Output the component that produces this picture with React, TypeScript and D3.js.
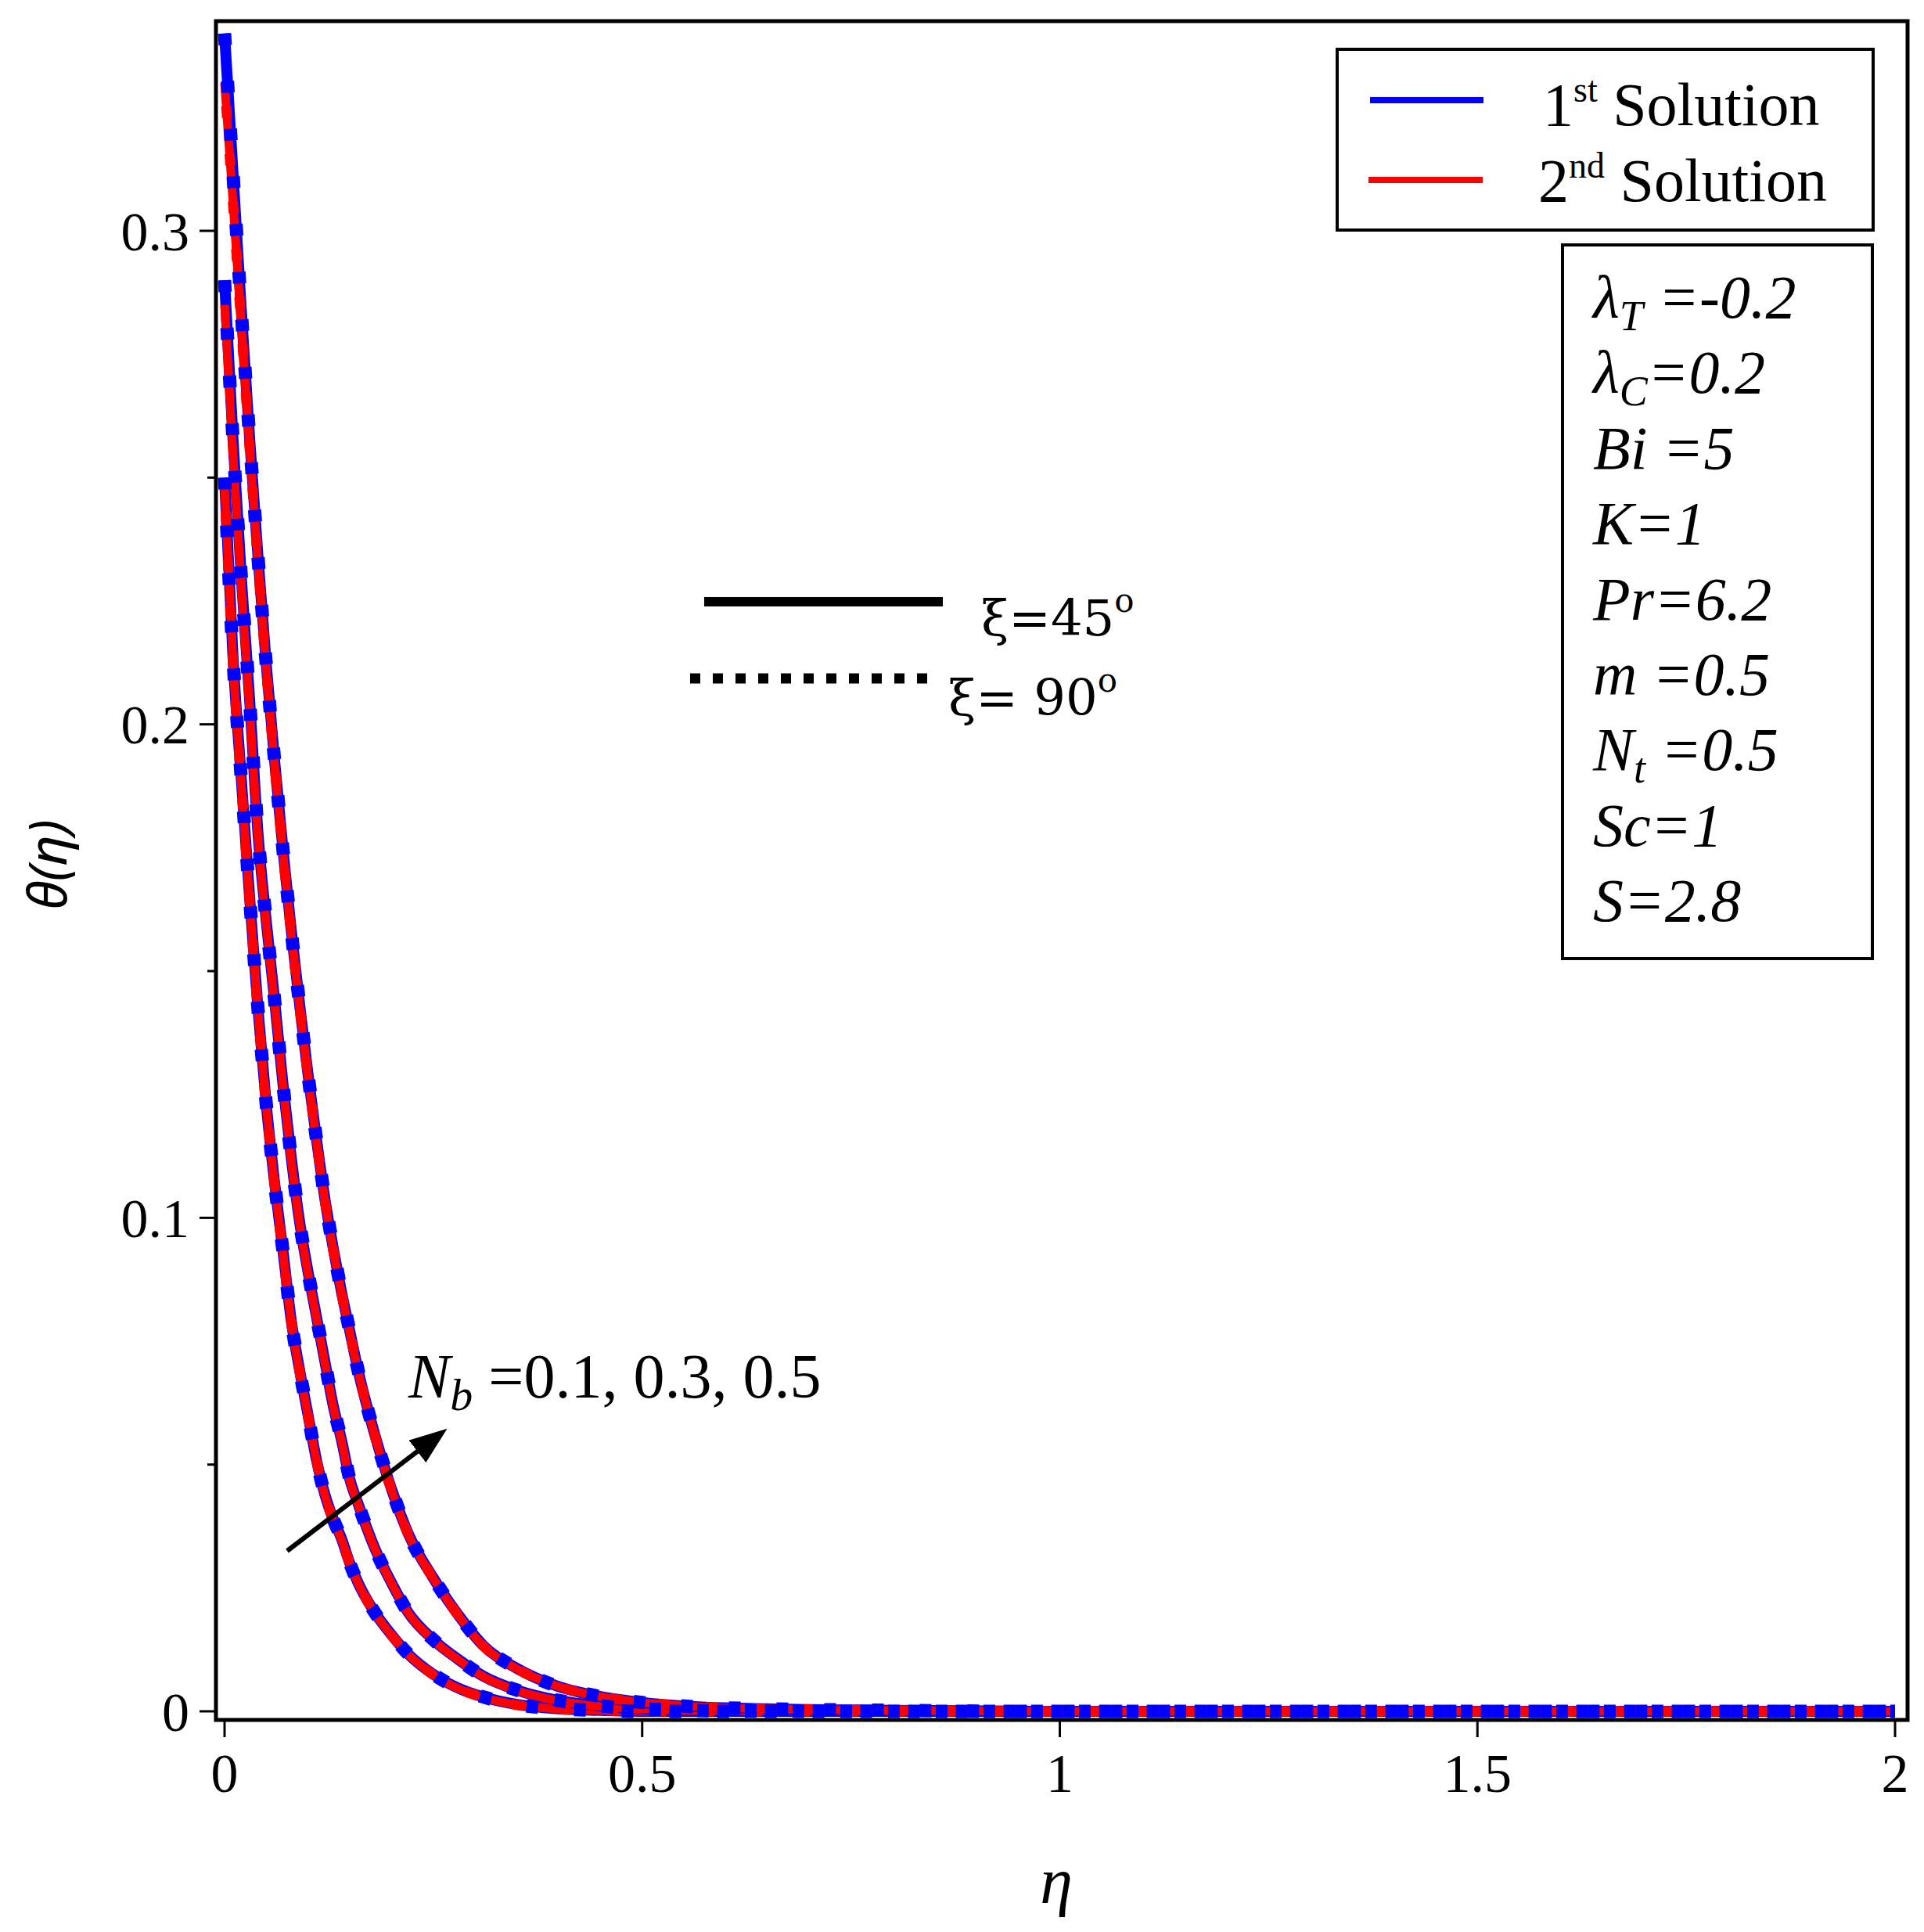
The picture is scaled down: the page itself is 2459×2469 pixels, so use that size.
import React from 'react'
import * as d3 from 'd3'

// eta sample points shared by every curve
const etaGrid = [0, 0.01, 0.02, 0.03, 0.04, 0.05, 0.06, 0.07, 0.08, 0.09, 0.1, 0.11, 0.12, 0.13, 0.14, 0.15, 0.16, 0.18, 0.2, 0.22, 0.25, 0.28, 0.31, 0.35, 0.4, 0.45, 0.5, 0.6, 0.8, 1.0, 1.5, 2.0]

// theta(eta), 1st solution (blue)
const firstNb01 = [0.25, 0.214, 0.189, 0.165, 0.1424, 0.1229, 0.107, 0.0932, 0.079, 0.069, 0.06, 0.051, 0.044, 0.039, 0.035, 0.03, 0.026, 0.02, 0.0155, 0.0116, 0.0075, 0.0047, 0.0029, 0.0014, 0.0005, 0.0002, 0, 0, 0, 0, 0, 0]
const firstNb03 = [0.29, 0.258, 0.23, 0.205, 0.178, 0.16, 0.144, 0.127, 0.112, 0.099, 0.089, 0.08, 0.071, 0.062, 0.055, 0.047, 0.042, 0.033, 0.026, 0.02, 0.0145, 0.0105, 0.0071, 0.0043, 0.0022, 0.0011, 0.0005, 0.0001, 0, 0, 0, 0]
const firstNb05 = [0.34, 0.312, 0.284, 0.258, 0.234, 0.212, 0.1925, 0.1745, 0.158, 0.143, 0.129, 0.116, 0.104, 0.094, 0.085, 0.077, 0.069, 0.056, 0.045, 0.036, 0.027, 0.0195, 0.0133, 0.0087, 0.005, 0.003, 0.0018, 0.0007, 0.0002, 0, 0, 0]

// theta(eta), 2nd solution (red)
const secondNb01 = [0.248, 0.213, 0.188, 0.164, 0.1418, 0.1224, 0.1066, 0.0928, 0.0787, 0.0687, 0.0598, 0.0508, 0.0438, 0.0388, 0.0348, 0.0299, 0.0259, 0.0199, 0.0154, 0.0115, 0.0074, 0.0046, 0.0028, 0.0013, 0.0005, 0.0002, 0, 0, 0, 0, 0, 0]
const secondNb03 = [0.285, 0.255, 0.228, 0.203, 0.1772, 0.1593, 0.1434, 0.1265, 0.1115, 0.0986, 0.0886, 0.0797, 0.0707, 0.0618, 0.0548, 0.0468, 0.0418, 0.0329, 0.0259, 0.0199, 0.0144, 0.0104, 0.007, 0.0042, 0.0021, 0.001, 0.0005, 0.0001, 0, 0, 0, 0]
const secondNb05 = [0.33, 0.306, 0.281, 0.256, 0.2328, 0.211, 0.1916, 0.1737, 0.1573, 0.1424, 0.1285, 0.1155, 0.1036, 0.0936, 0.0847, 0.0767, 0.0688, 0.0558, 0.0448, 0.0358, 0.0269, 0.0194, 0.0132, 0.0086, 0.005, 0.003, 0.0018, 0.0007, 0.0002, 0, 0, 0]

const nbValues = ['0.1', '0.3', '0.5']
const firstSolution = [firstNb01, firstNb03, firstNb05]
const secondSolution = [secondNb01, secondNb03, secondNb05]

const xTicks = [0, 0.5, 1, 1.5, 2]
const yTicks = [0, 0.1, 0.2, 0.3]
const yMinorTicks = [0.05, 0.15, 0.25]

const params = [
  { main: 'λ', sub: 'T', rest: ' =-0.2' },
  { main: 'λ', sub: 'C', rest: '=0.2' },
  { main: 'Bi =5', sub: '', rest: '' },
  { main: 'K=1', sub: '', rest: '' },
  { main: 'Pr=6.2', sub: '', rest: '' },
  { main: 'm =0.5', sub: '', rest: '' },
  { main: 'N', sub: 't', rest: ' =0.5' },
  { main: 'Sc=1', sub: '', rest: '' },
  { main: 'S=2.8', sub: '', rest: '' },
]

const W = 2459
const H = 2469
const frame = { left: 276, top: 27, right: 2438, bottom: 2198 }
const serif = '"Liberation Serif", "Times New Roman", serif'
const wideSerif = '"DejaVu Serif", serif'

const BLUE = '#0000ff'
const RED = '#ff0000'

const App: React.FC = () => {
  const x = d3.scaleLinear().domain([0, 2]).range([287, 2422])
  const y = d3.scaleLinear().domain([0, 0.3]).range([2187, 295])

  const line = (vals: number[]) =>
    d3.line<number>()
      .x((_, i) => x(etaGrid[i]))
      .y(d => y(d))
      .curve(d3.curveMonotoneX)(vals) as string

  return (
    <svg width={W} height={H} style={{ position: 'absolute', left: 0, top: 0, background: '#fff' }}>
      <defs>
        <clipPath id="plot-clip">
          <rect x={frame.left} y={frame.top} width={frame.right - frame.left} height={frame.bottom - frame.top} />
        </clipPath>
        <marker id="arrow-head" markerWidth={8} markerHeight={6} refX={6} refY={3} orient="auto" markerUnits="strokeWidth">
          <path d="M0,0 L8,3 L0,6 Z" fill="#000" />
        </marker>
      </defs>
      <rect width={W} height={H} fill="#fff" />

      <g clipPath="url(#plot-clip)">
        {/* xi = 45 deg, solid */}
        {nbValues.map((nb, i) => (
          <g key={'s' + nb}>
            <path d={line(firstSolution[i])} fill="none" stroke={BLUE} strokeWidth={14} />
            <path d={line(secondSolution[i])} fill="none" stroke={RED} strokeWidth={11} />
          </g>
        ))}
        {/* xi = 90 deg, dotted */}
        {nbValues.map((nb, i) => (
          <path key={'dr' + nb} d={line(secondSolution[i])} fill="none" stroke={RED} strokeWidth={13}
            strokeDasharray="15 46" strokeDashoffset={-30} />
        ))}
        {nbValues.map((nb, i) => (
          <path key={'db' + nb} d={line(firstSolution[i])} fill="none" stroke={BLUE} strokeWidth={17}
            strokeDasharray="15 46" />
        ))}
      </g>

      {/* frame */}
      <rect x={frame.left} y={frame.top} width={frame.right - frame.left} height={frame.bottom - frame.top}
        fill="none" stroke="#000" strokeWidth={5} />

      {/* y axis */}
      {yTicks.map(t => (
        <g key={'yt' + t}>
          <line x1={frame.left - 21} x2={frame.left} y1={y(t)} y2={y(t)} stroke="#000" strokeWidth={3} />
          <text x={242} y={y(t)} dy="0.35em" textAnchor="end" fontFamily={serif} fontSize={70}>
            {t === 0 ? '0' : d3.format('.1f')(t)}
          </text>
        </g>
      ))}
      {yMinorTicks.map(t => (
        <line key={'ym' + t} x1={frame.left - 11} x2={frame.left} y1={y(t)} y2={y(t)} stroke="#000" strokeWidth={3} />
      ))}

      {/* x axis */}
      {xTicks.map(t => (
        <g key={'xt' + t}>
          <line x1={x(t)} x2={x(t)} y1={frame.bottom} y2={frame.bottom + 22} stroke="#000" strokeWidth={3} />
          <text x={x(t)} y={2290} textAnchor="middle" fontFamily={serif} fontSize={70}>
            {String(t)}
          </text>
        </g>
      ))}

      {/* axis titles */}
      <text x={1350} y={2432} textAnchor="middle" fontFamily={serif} fontStyle="italic" fontSize={84}>η</text>
      <text transform="translate(85,1105) rotate(-90)" textAnchor="middle" fontFamily='"Noto Sans", sans-serif'
        fontStyle="italic" fontSize={68}>θ(η)</text>

      {/* solution legend */}
      <rect x={1709} y={63} width={685} height={231} fill="#fff" stroke="#000" strokeWidth={4} />
      <line x1={1751} x2={1896} y1={128} y2={128} stroke={BLUE} strokeWidth={8} />
      <line x1={1749} x2={1895} y1={230} y2={230} stroke={RED} strokeWidth={8} />
      <text x={1972} y={160} fontFamily={serif} fontSize={78}>
        1<tspan fontSize={46} dy={-30}>st</tspan><tspan dy={30}> Solution</tspan>
      </text>
      <text x={1966} y={257} fontFamily={serif} fontSize={78}>
        2<tspan fontSize={46} dy={-30}>nd</tspan><tspan dy={30}> Solution</tspan>
      </text>

      {/* parameter box */}
      <rect x={1997} y={313} width={396} height={912} fill="#fff" stroke="#000" strokeWidth={4} />
      {params.map((p, i) => (
        <text key={'p' + i} x={2036} y={406 + i * 96.4} fontFamily={serif} fontStyle="italic" fontSize={78}>
          {p.main}
          {p.sub && <tspan fontSize={54} dy={16}>{p.sub}</tspan>}
          {p.rest && <tspan dy={p.sub ? -16 : 0}>{p.rest}</tspan>}
        </text>
      ))}

      {/* xi legend */}
      <line x1={900} x2={1205} y1={769} y2={769} stroke="#000" strokeWidth={12} />
      <line x1={882} x2={1190} y1={867} y2={867} stroke="#000" strokeWidth={13} strokeDasharray="13 16" />
      <text x={1254} y={812} fontFamily={wideSerif} fontSize={64}>
        ξ=45<tspan fontSize={42} dy={-30}>o</tspan>
      </text>
      <text x={1212} y={914} fontFamily={wideSerif} fontSize={64}>
        ξ= 90<tspan fontSize={42} dy={-30}>o</tspan>
      </text>

      {/* Nb annotation */}
      <text x={522} y={1786} fontFamily={serif} fontSize={80}>
        <tspan fontStyle="italic">N</tspan>
        <tspan fontStyle="italic" fontSize={58} dy={16}>b</tspan>
        <tspan dy={-16}> =0.1, 0.3, 0.5</tspan>
      </text>
      <line x1={367} y1={1982} x2={562} y2={1833} stroke="#000" strokeWidth={6} markerEnd="url(#arrow-head)" />
    </svg>
  )
}

export default App
